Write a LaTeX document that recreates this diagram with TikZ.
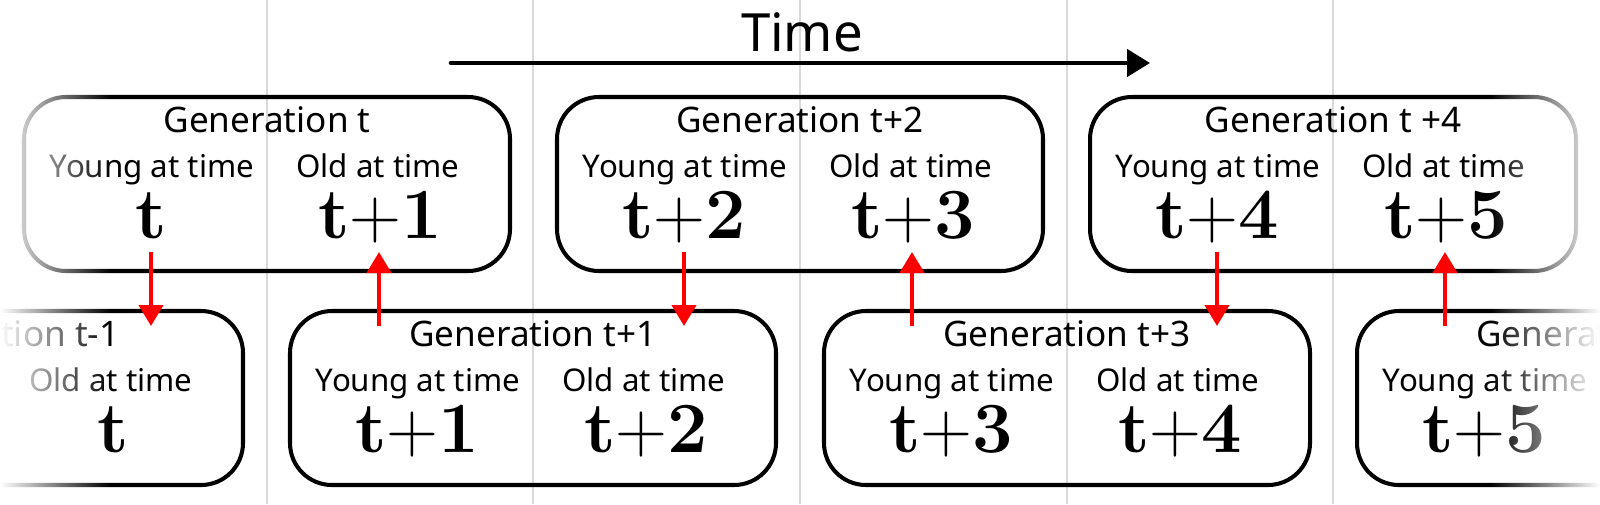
\RequirePackage{fix-cm}
\documentclass[tikz,border=0pt]{standalone}
\usepackage[no-math]{fontspec}
\newfontfamily\notosans{Noto Sans}
\usetikzlibrary{arrows.meta, positioning, calc, fadings}
\definecolor{gridgray}{HTML}{DADADA}
\definecolor{linkred}{HTML}{FF0000}
\tikzfading[name=fadeleft, left color=transparent!0, right color=transparent!100]
\tikzfading[name=faderight, left color=transparent!100, right color=transparent!0]
\tikzset{
  genbox/.style={draw, line width=1.15pt, rounded corners=0.42cm,
    minimum width=4.86cm, minimum height=1.74cm},
  gentitle/.style={font=\notosans\fontsize{10}{12}\selectfont, inner sep=0pt, anchor=base},
  agetext/.style={font=\notosans\fontsize{8.9}{11}\selectfont, inner sep=0pt, anchor=base},
  ageval/.style={font=\fontsize{20.5}{22}\selectfont, inner sep=0pt, anchor=base},
  link/.style={-{Triangle[width=0.24cm, length=0.21cm]}, linkred, line width=1.2pt}
}
% box of one generation: name, centre, generation
\newcommand{\genbox}[3]{%
  \node[genbox] (#1) at (#2) {};
  \node[gentitle] (#1-title) at ($(#1.center)+(0,0.52)$) {Generation #3};
  \coordinate (#1-ylow) at ($(#1.center)+(-1.16,-0.68)$);
  \coordinate (#1-olow) at ($(#1.center)+(1.12,-0.68)$);
  \coordinate (#1-dock) at ($(#1.center)+(0,0.72)$);
}
\newcommand{\youngat}[2]{%
  \node[agetext] (#1-young) at ($(#1.center)+(-1.15,0.07)$) {Young at time};
  \node[ageval] (#1-yval) at ($(#1.center)+(-1.16,-0.54)$) {$\mathbf{#2}$};
}
\newcommand{\oldat}[2]{%
  \node[agetext] (#1-old) at ($(#1.center)+(1.11,0.07)$) {Old at time};
  \node[ageval] (#1-oval) at ($(#1.center)+(1.13,-0.54)$) {$\mathbf{#2}$};
}
\begin{document}
\begin{tikzpicture}
  \clip (0,0) rectangle (16,5.04);
  % time grid
  \foreach \i in {1,...,5}
    \draw[gridgray, line width=0.5pt] (\i*16/6,0) -- (\i*16/6,5.04);

  \node[font=\notosans\fontsize{15}{18}\selectfont] (time) at (8.02,4.72) {Time};
  \coordinate (tstart) at (4.51,4.41);
  \coordinate (tend) at (11.50,4.41);
  \draw[-{Triangle[width=0.27cm, length=0.23cm]}, line width=1.3pt, line cap=round]
    (tstart) -- (tend);

  % generations
  \genbox{g0}{2.67,3.20}{t}
  \youngat{g0}{t} \oldat{g0}{t{+}1}
  \genbox{g2}{8.00,3.20}{t+2}
  \youngat{g2}{t{+}2} \oldat{g2}{t{+}3}
  \genbox{g4}{13.33,3.20}{t +4}
  \youngat{g4}{t{+}4} \oldat{g4}{t{+}5}
  \genbox{gm1}{0,1.06}{t-1}
  \oldat{gm1}{t}
  \genbox{g1}{5.33,1.06}{t+1}
  \youngat{g1}{t{+}1} \oldat{g1}{t{+}2}
  \genbox{g3}{10.67,1.06}{t+3}
  \youngat{g3}{t{+}3} \oldat{g3}{t{+}4}
  \genbox{g5}{16,1.06}{t+5}
  \youngat{g5}{t{+}5}

  % links
  \draw[link] (g0-ylow) -- (g0-ylow |- gm1-dock);
  \draw[link] (g0-olow |- g1-dock) -- (g0-olow);
  \draw[link] (g2-ylow) -- (g2-ylow |- g1-dock);
  \draw[link] (g2-olow |- g3-dock) -- (g2-olow);
  \draw[link] (g4-ylow) -- (g4-ylow |- g3-dock);
  \draw[link] (g4-olow |- g5-dock) -- (g4-olow);

  % edge fades
  \fill[white, path fading=fadeleft] (0,0) rectangle (1.1,5.04);
  \fill[white, path fading=faderight] (14.9,0) rectangle (16,5.04);
\end{tikzpicture}
\end{document}
